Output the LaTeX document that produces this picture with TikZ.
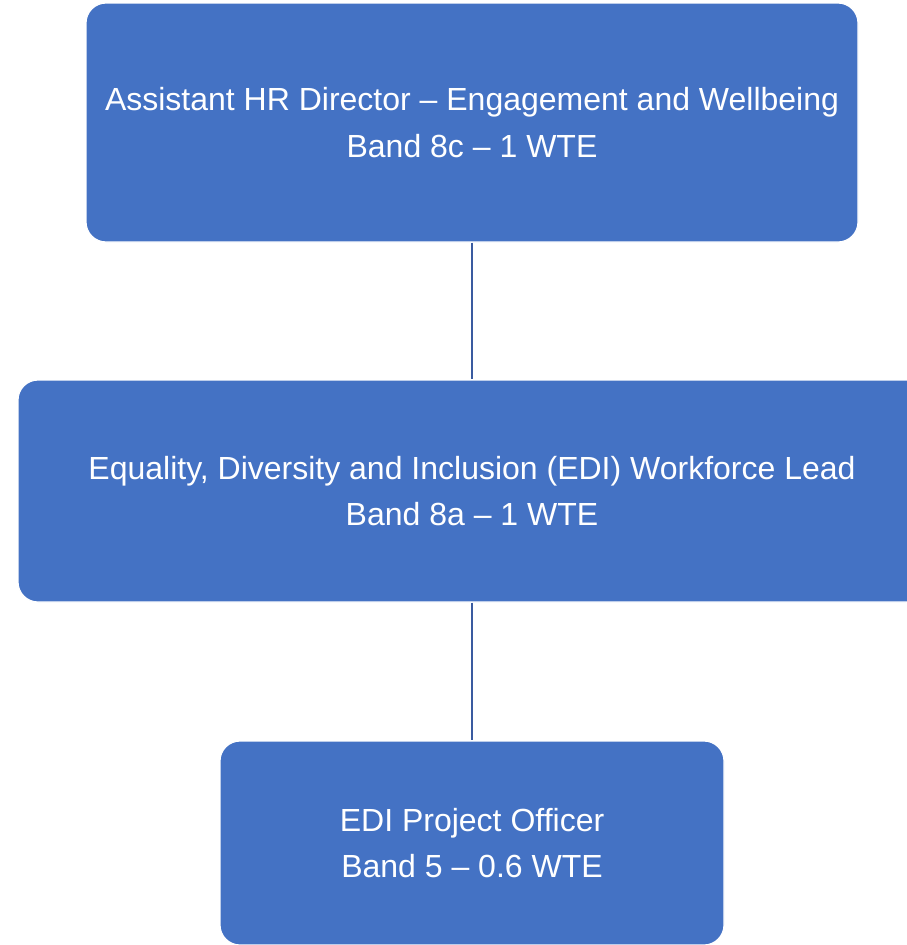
\documentclass[tikz,border=0pt]{standalone}
\usepackage{fontspec}
\setmainfont{Liberation Sans}
\usepackage{xcolor}
\usepackage{tikz}
\usetikzlibrary{positioning}
\definecolor{boxblue}{RGB}{68,114,196}
\definecolor{lineblue}{RGB}{58,91,160}
\begin{document}
\begin{tikzpicture}[x=1pt, y=1pt,
			role/.style={draw=white, line width=1.2pt, fill=boxblue, rounded corners=20pt, text=white, align=center, inner sep=0pt, font=\fontsize{32}{46.5}\selectfont},
			link/.style={draw=lineblue, line width=2.8pt},
			]
			\useasboundingbox (0,0) rectangle (907,-945);
			% 3 levels
			\draw node[role][minimum width=772pt, minimum height=239pt] at (472,-122.5) (director) {Assistant HR Director -- Engagement and Wellbeing\\Band 8c -- 1 WTE};
			
			\draw node[role][minimum width=908pt, minimum height=222pt, below=136.8pt of director] (lead) {Equality, Diversity and Inclusion (EDI) Workforce Lead\\Band 8a -- 1 WTE};
			
			\draw node[role][minimum width=504pt, minimum height=204pt, below=137.8pt of lead] (officer) {EDI Project Officer\\Band 5 -- 0.6 WTE};
			
			% Lines
			\draw [link] (director.south) -- (lead.north);
			\draw [link] (lead.south) -- (officer.north);
			
\end{tikzpicture}
\end{document}
